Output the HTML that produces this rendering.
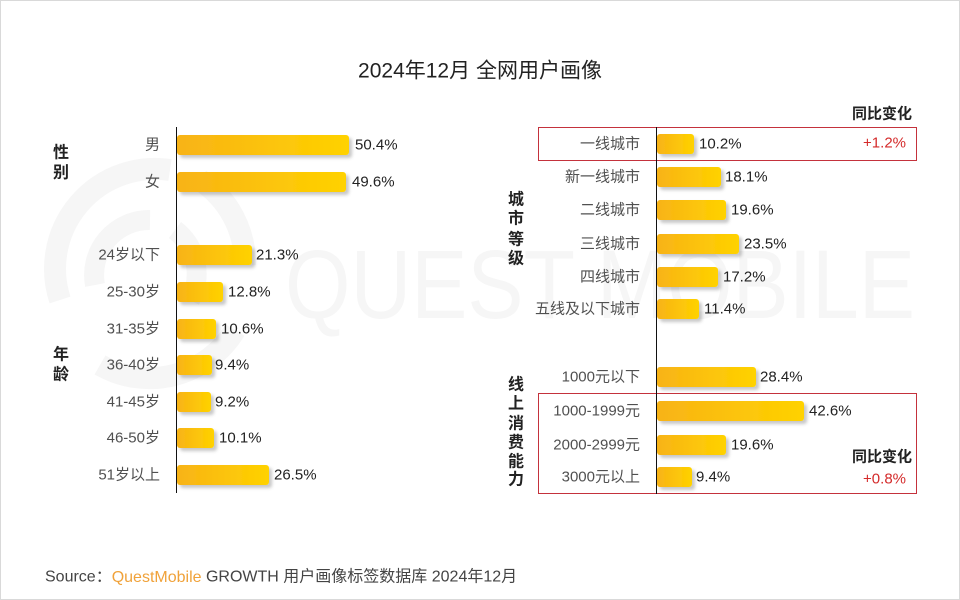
<!DOCTYPE html>
<html>
<head>
<meta charset="utf-8">
<style>
html,body{margin:0;padding:0;background:#fff;}
body{width:960px;height:600px;overflow:hidden;}
svg{display:block;}
text{font-family:"Liberation Sans","Noto Sans CJK SC",sans-serif;}
.lab{font-size:15px;fill:#505050;text-anchor:end;dominant-baseline:central;}
.pct{font-size:15px;fill:#222;dominant-baseline:central;}
.grp{font-size:16px;fill:#222;font-weight:bold;text-anchor:middle;dominant-baseline:central;}
.hd{font-size:15px;fill:#222;font-weight:bold;text-anchor:end;dominant-baseline:central;}
.red{font-size:15px;fill:#d42a2a;text-anchor:end;dominant-baseline:central;}
</style>
</head>
<body>
<svg width="960" height="600" viewBox="0 0 960 600" xmlns="http://www.w3.org/2000/svg">
<defs>
<linearGradient id="g" x1="0" x2="1" y1="0" y2="0">
<stop offset="0" stop-color="#f8b316"/>
<stop offset="1" stop-color="#ffd200"/>
</linearGradient>
<filter id="sh" x="-10%" y="-30%" width="130%" height="190%">
<feDropShadow dx="3" dy="3" stdDeviation="1.5" flood-color="#000" flood-opacity="0.22"/>
</filter>
</defs>
<rect x="0.5" y="0.5" width="959" height="599" fill="#fff" stroke="#d9d9d9" stroke-width="1"/>

<!-- watermark -->
<g fill="none" stroke="#f6f6f6">
<path d="M 60 300 A 100 100 0 0 1 170 170" stroke-width="22"/>
<path d="M 200 180 A 100 100 0 0 1 245 265" stroke-width="22"/>
<path d="M 235 330 A 100 100 0 0 1 100 365" stroke-width="22"/>
<path d="M 95 285 A 55 55 0 0 1 150 220" stroke-width="20"/>
<path d="M 175 230 A 55 55 0 0 1 190 300" stroke-width="20"/>
</g>
<text x="285" y="318" font-size="97" fill="#f6f6f6" textLength="630" lengthAdjust="spacingAndGlyphs">QUEST MOBILE</text>

<!-- title -->
<text x="480" y="71" font-size="21" fill="#222" text-anchor="middle" dominant-baseline="central">2024年12月 全网用户画像</text>

<!-- left group labels -->
<text class="grp" x="61" y="153">性</text>
<text class="grp" x="61" y="173">别</text>
<text class="grp" x="61" y="355">年</text>
<text class="grp" x="61" y="375">龄</text>

<!-- left bars -->
<g filter="url(#sh)" fill="url(#g)">
<rect x="177" y="135" width="172" height="20" rx="3"/>
<rect x="177" y="172" width="169" height="20" rx="3"/>
<rect x="177" y="245" width="75" height="20" rx="3"/>
<rect x="177" y="282" width="46" height="20" rx="3"/>
<rect x="177" y="319" width="39" height="20" rx="3"/>
<rect x="177" y="355" width="35" height="20" rx="3"/>
<rect x="177" y="392" width="34" height="20" rx="3"/>
<rect x="177" y="428" width="37" height="20" rx="3"/>
<rect x="177" y="465" width="92" height="20" rx="3"/>
</g>
<line x1="176.5" y1="127" x2="176.5" y2="493" stroke="#111" stroke-width="1"/>

<text class="lab" x="160" y="145">男</text>
<text class="lab" x="160" y="182">女</text>
<text class="lab" x="160" y="255">24岁以下</text>
<text class="lab" x="160" y="292">25-30岁</text>
<text class="lab" x="160" y="329">31-35岁</text>
<text class="lab" x="160" y="365">36-40岁</text>
<text class="lab" x="160" y="402">41-45岁</text>
<text class="lab" x="160" y="438">46-50岁</text>
<text class="lab" x="160" y="475">51岁以上</text>

<text class="pct" x="355" y="145">50.4%</text>
<text class="pct" x="352" y="182">49.6%</text>
<text class="pct" x="256" y="255">21.3%</text>
<text class="pct" x="228" y="292">12.8%</text>
<text class="pct" x="221" y="329">10.6%</text>
<text class="pct" x="215" y="365">9.4%</text>
<text class="pct" x="215" y="402">9.2%</text>
<text class="pct" x="219" y="438">10.1%</text>
<text class="pct" x="274" y="475">26.5%</text>

<!-- right group labels -->
<text class="grp" x="516" y="200">城</text>
<text class="grp" x="516" y="219">市</text>
<text class="grp" x="516" y="240">等</text>
<text class="grp" x="516" y="259">级</text>
<text class="grp" x="516" y="385">线</text>
<text class="grp" x="516" y="404">上</text>
<text class="grp" x="516" y="424">消</text>
<text class="grp" x="516" y="443">费</text>
<text class="grp" x="516" y="462">能</text>
<text class="grp" x="516" y="480">力</text>

<!-- red boxes -->
<rect x="538.5" y="127.5" width="378" height="33" fill="none" stroke="#c4323c" stroke-width="1"/>
<rect x="538.5" y="393.5" width="378" height="100" fill="none" stroke="#c4323c" stroke-width="1"/>

<!-- right bars -->
<g filter="url(#sh)" fill="url(#g)">
<rect x="657" y="134" width="37" height="20" rx="3"/>
<rect x="657" y="167" width="64" height="20" rx="3"/>
<rect x="657" y="200" width="69" height="20" rx="3"/>
<rect x="657" y="234" width="82" height="20" rx="3"/>
<rect x="657" y="267" width="61" height="20" rx="3"/>
<rect x="657" y="299" width="42" height="20" rx="3"/>
<rect x="657" y="367" width="99" height="20" rx="3"/>
<rect x="657" y="401" width="147" height="20" rx="3"/>
<rect x="657" y="435" width="69" height="20" rx="3"/>
<rect x="657" y="467" width="35" height="20" rx="3"/>
</g>
<line x1="656.5" y1="127" x2="656.5" y2="494" stroke="#111" stroke-width="1"/>

<text class="lab" x="640" y="144">一线城市</text>
<text class="lab" x="640" y="177">新一线城市</text>
<text class="lab" x="640" y="210">二线城市</text>
<text class="lab" x="640" y="244">三线城市</text>
<text class="lab" x="640" y="277">四线城市</text>
<text class="lab" x="640" y="309">五线及以下城市</text>
<text class="lab" x="640" y="377">1000元以下</text>
<text class="lab" x="640" y="411">1000-1999元</text>
<text class="lab" x="640" y="445">2000-2999元</text>
<text class="lab" x="640" y="477">3000元以上</text>

<text class="pct" x="699" y="144">10.2%</text>
<text class="pct" x="725" y="177">18.1%</text>
<text class="pct" x="731" y="210">19.6%</text>
<text class="pct" x="744" y="244">23.5%</text>
<text class="pct" x="723" y="277">17.2%</text>
<text class="pct" x="704" y="309">11.4%</text>
<text class="pct" x="760" y="377">28.4%</text>
<text class="pct" x="809" y="411">42.6%</text>
<text class="pct" x="731" y="445">19.6%</text>
<text class="pct" x="696" y="477">9.4%</text>

<text class="hd" x="912" y="114">同比变化</text>
<text class="red" x="906" y="143">+1.2%</text>
<text class="hd" x="912" y="457">同比变化</text>
<text class="red" x="906" y="479">+0.8%</text>

<!-- source -->
<text x="45" y="577" font-size="16" fill="#444" dominant-baseline="central">Source：<tspan fill="#f0a23a">QuestMobile</tspan> GROWTH 用户画像标签数据库 2024年12月</text>
</svg>
</body>
</html>
